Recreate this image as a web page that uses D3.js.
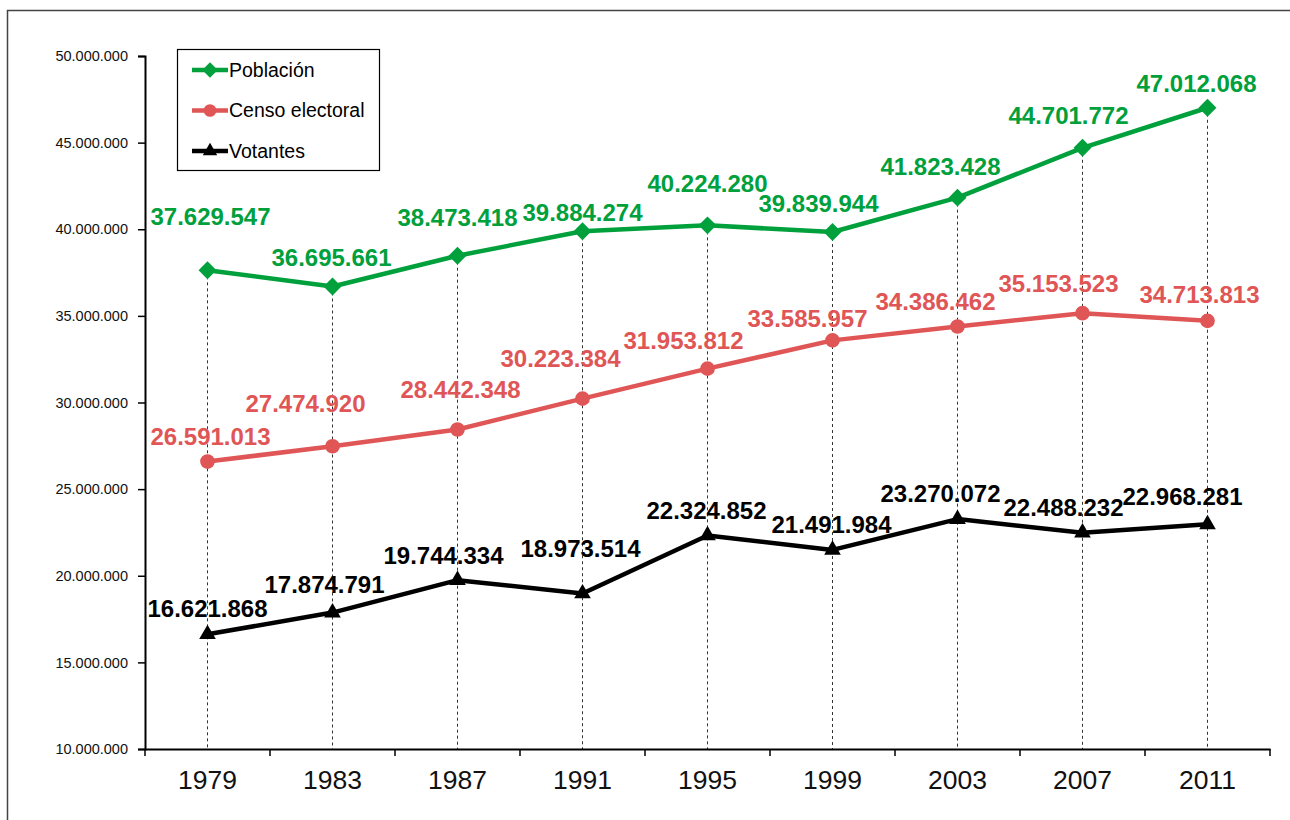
<!DOCTYPE html>
<html>
<head>
<meta charset="utf-8">
<script src="https://cdn.jsdelivr.net/npm/d3@7"></script>
<style>
  body { margin: 0; background: #fff; }
  svg { display: block; font-family: "Liberation Sans", Arial, sans-serif; }
</style>
</head>
<body>
<div id="chart"></div>
<script>
// data
var years = ["1979", "1983", "1987", "1991", "1995", "1999", "2003", "2007", "2011"];
var poblacion = [37629547, 36695661, 38473418, 39884274, 40224280, 39839944, 41823428, 44701772, 47012068];
var censo = [26591013, 27474920, 28442348, 30223384, 31953812, 33585957, 34386462, 35153523, 34713813];
var votantes = [16621868, 17874791, 19744334, 18973514, 22324852, 21491984, 23270072, 22488232, 22968281];
var yTicks = [10000000, 15000000, 20000000, 25000000, 30000000, 35000000, 40000000, 45000000, 50000000];

var W = 1290, H = 820;

var svg = d3.select("#chart").append("svg")
  .attr("width", W)
  .attr("height", H);

// outer frame (runs off the right and bottom edges)
svg.append("rect")
  .attr("x", 7.5).attr("y", 10.5)
  .attr("width", W).attr("height", H)
  .attr("fill", "none")
  .attr("stroke", "#444")
  .attr("stroke-width", 1.5);

var x = d3.scaleBand().domain(years).range([145, 1270]);
var y = d3.scaleLinear().domain([10000000, 50000000]).range([749, 56]);

var es = d3.formatLocale({decimal: ",", thousands: ".", grouping: [3], currency: ["", "€"]});
var fmt = es.format(",.0f");

var cx = function(i) { return x(years[i]) + x.bandwidth() / 2; };

// diamond = square turned 45 degrees
var diamond = {
  draw: function(ctx, size) {
    var r = Math.sqrt(size / 2);
    ctx.moveTo(0, -r); ctx.lineTo(r, 0); ctx.lineTo(0, r); ctx.lineTo(-r, 0); ctx.closePath();
  }
};

// dashed drop lines from the top point down to the axis
svg.append("g").selectAll("line")
  .data(years)
  .enter().append("line")
  .attr("x1", function(d, i) { return cx(i); })
  .attr("x2", function(d, i) { return cx(i); })
  .attr("y1", function(d, i) { return y(poblacion[i]); })
  .attr("y2", y(10000000))
  .attr("stroke", "#333")
  .attr("stroke-width", 1)
  .attr("stroke-dasharray", "3,3");

// y axis
var yAxis = svg.append("g")
  .attr("transform", "translate(145,0)")
  .call(d3.axisLeft(y).tickValues(yTicks).tickFormat(fmt).tickSizeOuter(0).tickSize(7).tickPadding(10));
yAxis.select(".domain").attr("stroke", "#000").attr("stroke-width", 2);
yAxis.selectAll(".tick line").attr("stroke", "#000").attr("stroke-width", 1.5);
yAxis.selectAll(".tick text")
  .attr("font-size", 14.5)
  .attr("fill", "#111")
  .attr("font-family", "Liberation Sans, Arial, sans-serif");

// x axis
var xAxis = svg.append("g")
  .attr("transform", "translate(0,749)")
  .call(d3.axisBottom(x).tickSize(0).tickPadding(21));
xAxis.select(".domain").attr("stroke", "#000").attr("stroke-width", 2);
xAxis.selectAll(".tick text")
  .attr("font-size", 26.5)
  .attr("fill", "#111")
  .attr("font-family", "Liberation Sans, Arial, sans-serif");
// tick marks at category boundaries
xAxis.selectAll("line.bound")
  .data(d3.range(years.length + 1))
  .enter().append("line")
  .attr("class", "bound")
  .attr("x1", function(i) { return 145 + i * x.step(); })
  .attr("x2", function(i) { return 145 + i * x.step(); })
  .attr("y1", 0).attr("y2", 7)
  .attr("stroke", "#000")
  .attr("stroke-width", 1.5);

// series
var series = [
  {name: "Población", values: poblacion, color: "#00A03C", marker: diamond, size: 160,
   dx: [3, -1, 0, 0, 0, -14, -17, -14, -11],
   dy: [-54, -29, -38, -19, -42, -29, -31, -32, -24]},
  {name: "Censo electoral", values: censo, color: "#E05555", marker: d3.symbolCircle, size: 170,
   dx: [3, -27, 3, -22, -24, -25, -22, -24, -8],
   dy: [-25, -43, -40, -40, -28, -22, -25, -30, -26]},
  {name: "Votantes", values: votantes, color: "#000000", marker: d3.symbolTriangle, size: 120,
   dx: [0, -8, -14, -2, -1, -1, -17, -19, -25],
   dy: [-26, -28, -25, -45, -25, -26, -26, -25, -28]}
];

var line = d3.line()
  .x(function(d, i) { return cx(i); })
  .y(function(d) { return y(d); });

series.forEach(function(s) {
  var g = svg.append("g");
  g.append("path")
    .datum(s.values)
    .attr("d", line)
    .attr("fill", "none")
    .attr("stroke", s.color)
    .attr("stroke-width", 4.5)
    .attr("stroke-linejoin", "round");

  g.selectAll("path.mk")
    .data(s.values)
    .enter().append("path")
    .attr("class", "mk")
    .attr("d", d3.symbol().type(s.marker).size(s.size))
    .attr("transform", function(d, i) { return "translate(" + cx(i) + "," + y(d) + ")"; })
    .attr("fill", s.color);

  g.selectAll("text")
    .data(s.values)
    .enter().append("text")
    .attr("x", function(d, i) { return cx(i) + s.dx[i]; })
    .attr("y", function(d, i) { return y(d) + s.dy[i]; })
    .attr("dy", "0.36em")
    .attr("text-anchor", "middle")
    .attr("font-size", 24)
    .attr("font-weight", "bold")
    .attr("fill", s.color)
    .text(function(d) { return fmt(d); });
});

// legend
var legend = svg.append("g");
legend.append("rect")
  .attr("x", 177.5).attr("y", 49.5)
  .attr("width", 202).attr("height", 121)
  .attr("fill", "#fff")
  .attr("stroke", "#000")
  .attr("stroke-width", 1.2);

var items = legend.selectAll("g.item")
  .data(series)
  .enter().append("g")
  .attr("class", "item")
  .attr("transform", function(d, i) { return "translate(0," + (70 + i * 40.5) + ")"; });
items.append("line")
  .attr("x1", 192).attr("x2", 228)
  .attr("stroke", function(d) { return d.color; })
  .attr("stroke-width", 4.5);
items.append("path")
  .attr("d", function(d) { return d3.symbol().type(d.marker).size(d.size * 0.75)(); })
  .attr("transform", "translate(210,0)")
  .attr("fill", function(d) { return d.color; });
items.append("text")
  .attr("x", 229)
  .attr("dy", "0.35em")
  .attr("font-size", 19.5)
  .attr("fill", "#000")
  .text(function(d) { return d.name; });
</script>
</body>
</html>
